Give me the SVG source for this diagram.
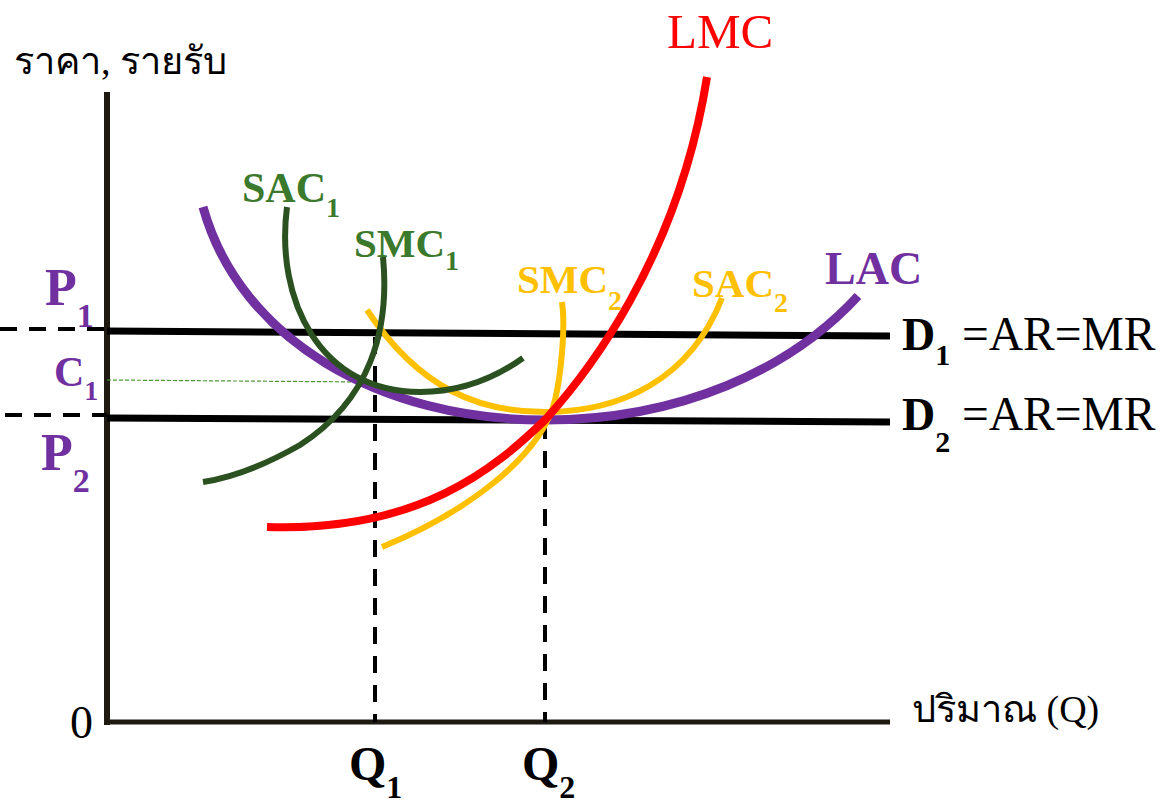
<svg xmlns="http://www.w3.org/2000/svg" width="1168" height="806" viewBox="0 0 1168 806">
<style>
.t{font-family:"Liberation Serif","DejaVu Serif",serif}
.b{font-weight:bold}
.pur{fill:#7030a0}
.grn{fill:#3b7a2c}
.org{fill:#ffc000}
.red{fill:#ff0000}
.blk{fill:#000}
.c{fill:none;stroke-linecap:butt}
.dash{stroke:#000;stroke-width:4;stroke-dasharray:17 12;fill:none}
</style>
<rect width="1168" height="806" fill="#fff"/>
<g id="axes">
<line x1="107" y1="92" x2="107" y2="725" stroke="#1e1a12" stroke-width="6"/>
<line x1="104" y1="722" x2="890" y2="722" stroke="#1e1a12" stroke-width="5"/>
<text class="t blk" x="14" y="74" font-size="38">ราคา, รายรับ</text>
<text class="t blk" x="70" y="738" font-size="46">0</text>
<text class="t blk" x="912" y="722" font-size="38">ปริมาณ (Q)</text>
</g>
<g id="guides">
<line class="dash" x1="0" y1="329" x2="107" y2="329"/>
<line class="dash" x1="5" y1="415" x2="107" y2="415"/>
<line x1="107" y1="380" x2="365" y2="382" stroke="#4a9a30" stroke-width="1.2" stroke-dasharray="4 2"/>
<line class="dash" x1="375" y1="337" x2="375" y2="722"/>
<line class="dash" x1="545" y1="422" x2="545" y2="722"/>
</g>
<g id="demand">
<line x1="107" y1="331" x2="890" y2="336" stroke="#000" stroke-width="7"/>
<line x1="107" y1="418" x2="890" y2="422" stroke="#000" stroke-width="7"/>
<text class="t b blk" x="902" y="350" font-size="46">D<tspan font-size="30" dy="15">1</tspan></text>
<text class="t blk" x="962" y="350" font-size="47.5">=AR=MR</text>
<text class="t b blk" x="902" y="430" font-size="46">D<tspan font-size="30" dy="22">2</tspan></text>
<text class="t blk" x="962" y="430" font-size="47.5">=AR=MR</text>
</g>
<g id="connectors">
<path id="LAC" class="c" stroke="#7030a0" stroke-width="9" d="M203,207 C240,340 380,420 545,420 C680,420 790,370 858,296"/>
<path id="SAC2" class="c" stroke="#ffc000" stroke-width="6" d="M367,310 C420,390 480,412 545,412 C620,412 690,380 722,298"/>
<path id="SMC2" class="c" stroke="#ffc000" stroke-width="6" d="M382,547 C460,515 540,460 555,400 C560,380 566,330 562,302"/>
<path id="SAC1" class="c" stroke="#2b5120" stroke-width="6" d="M287,207 C275,300 320,392 420,392 C460,392 495,378 523,358"/>
<path id="SMC1" class="c" stroke="#2b5120" stroke-width="6" d="M383,257 C390,330 370,400 300,445 C265,465 230,478 203,482"/>
<path id="LMC" class="c" stroke="#ff0000" stroke-width="8" d="M267,527 C420,532 495,468 545,420 C585,376 678,260 707,77"/>
</g>
<g id="labels">
<text class="t b pur" x="45" y="305" font-size="52">P<tspan font-size="34" dy="22">1</tspan></text>
<text class="t b pur" x="41" y="470" font-size="52">P<tspan font-size="34" dy="22">2</tspan></text>
<text class="t b pur" x="54" y="386" font-size="42">C<tspan font-size="28" dy="14">1</tspan></text>
<text class="t b blk" x="349" y="780" font-size="48">Q<tspan font-size="32" dy="18">1</tspan></text>
<text class="t b blk" x="522" y="780" font-size="48">Q<tspan font-size="32" dy="18">2</tspan></text>
<text class="t red" x="667" y="48" font-size="49">LMC</text>
<text class="t b pur" x="825" y="284" font-size="46">LAC</text>
<text class="t b grn" x="242" y="202" font-size="42">SAC<tspan font-size="28" dy="15">1</tspan></text>
<text class="t b grn" x="354" y="257" font-size="41">SMC<tspan font-size="28" dy="13">1</tspan></text>
<text class="t b org" x="517" y="293" font-size="41">SMC<tspan font-size="28" dy="17">2</tspan></text>
<text class="t b org" x="692" y="297" font-size="41">SAC<tspan font-size="28" dy="15">2</tspan></text>
</g>
</svg>
